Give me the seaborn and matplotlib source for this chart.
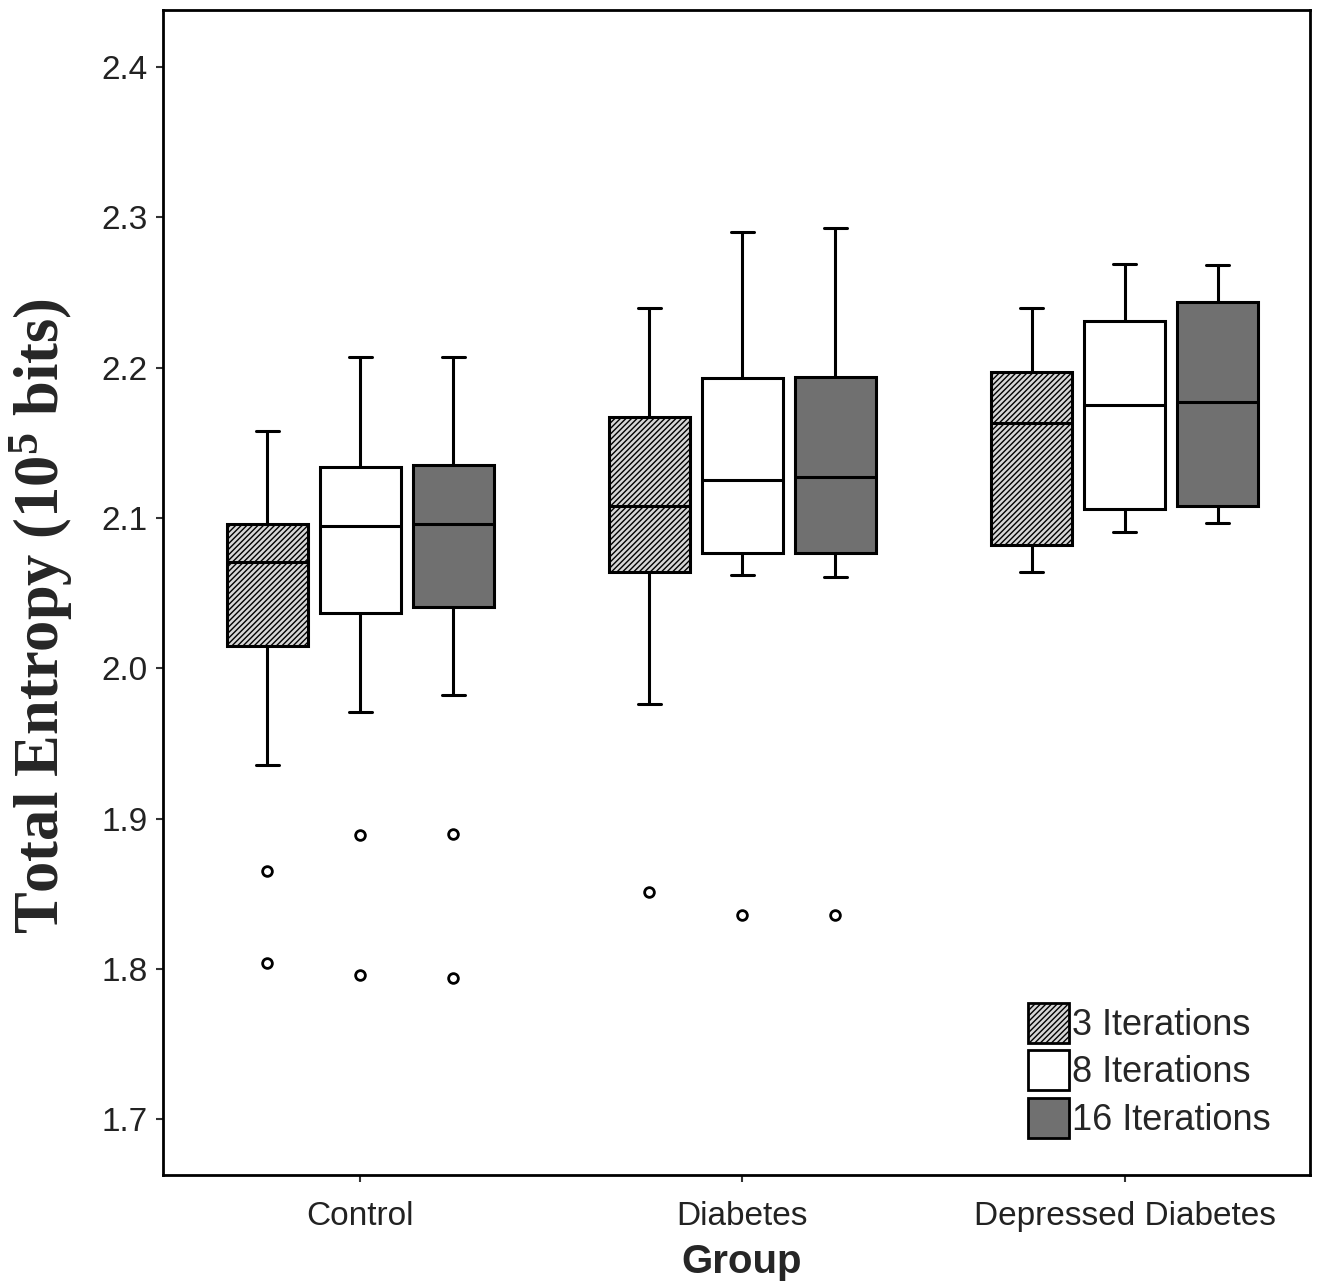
import numpy as np
import pandas as pd
import matplotlib.pyplot as plt
import seaborn as sns
from matplotlib.colors import to_rgb
from matplotlib.patches import Patch

groups = ["Control", "Diabetes", "Depressed Diabetes"]
iterations = ["3 Iterations", "8 Iterations", "16 Iterations"]

# box summaries, order: group by group, 3/8/16 iterations in each
whisker_low = [1.936, 1.971, 1.982, 1.976, 2.062, 2.061, 2.064, 2.091, 2.097]
quart_1 = [2.015, 2.037, 2.041, 2.064, 2.077, 2.077, 2.082, 2.106, 2.108]
medians = [2.071, 2.095, 2.096, 2.108, 2.125, 2.127, 2.163, 2.175, 2.177]
quart_3 = [2.096, 2.134, 2.135, 2.167, 2.193, 2.194, 2.197, 2.231, 2.244]
whisker_high = [2.158, 2.207, 2.207, 2.240, 2.290, 2.293, 2.240, 2.269, 2.268]
outliers = [[1.865, 1.804], [1.889, 1.796], [1.890, 1.794],
            [1.851], [1.836], [1.836],
            [], [], []]

fill_colors = ["#d6d6d6", "#ffffff", "#707070"]


# rebuild a 13 point sample whose quartiles, whiskers (1.5 IQR) and fliers
# come out exactly as the summary when seaborn computes them
def rebuild_sample(lo, q1, med, q3, hi, fliers):
    bottom = list(fliers) + [lo] * (3 - len(fliers))
    return bottom + [q1] * 3 + [med] * 3 + [q3] + [hi] * 3


rows = []
for i in range(len(medians)):
    grp = groups[i // 3]
    it = iterations[i % 3]
    sample = rebuild_sample(whisker_low[i], quart_1[i], medians[i],
                            quart_3[i], whisker_high[i], outliers[i])
    for v in sample:
        rows.append({"Group": grp, "Iterations": it, "Entropy": v})
df = pd.DataFrame(rows)

sns.set_style("ticks")
plt.rcParams["font.family"] = ["Liberation Sans", "DejaVu Sans"]
plt.rcParams["hatch.linewidth"] = 1.0
plt.rcParams["mathtext.fontset"] = "custom"
plt.rcParams["mathtext.rm"] = "Liberation Serif:bold"
plt.rcParams["mathtext.it"] = "Liberation Serif:bold"
plt.rcParams["mathtext.bf"] = "Liberation Serif:bold"

fig = plt.figure(figsize=(13.31, 12.88), dpi=100)
ax = fig.add_axes([0.1225, 0.0877, 0.8615, 0.9046])

sns.boxplot(data=df, x="Group", y="Entropy", hue="Iterations",
            order=groups, hue_order=iterations,
            palette=dict(zip(iterations, fill_colors)), saturation=1,
            width=0.73, gap=0.13, whis=1.5, linewidth=2.2, linecolor="black",
            fliersize=7, capwidths=0.06,
            flierprops=dict(marker="o", markerfacecolor="white",
                            markeredgecolor="black", markeredgewidth=2.0),
            medianprops=dict(color="black", linewidth=2.2),
            legend=False, ax=ax)

# hatch the 3 iteration boxes
for p in ax.patches:
    if np.allclose(p.get_facecolor()[:3], to_rgb(fill_colors[0])):
        p.set_hatch("//////")

ax.set_ylim(1.663, 2.438)
ax.set_xlim(-0.516, 2.484)
ax.set_yticks([1.7, 1.8, 1.9, 2.0, 2.1, 2.2, 2.3, 2.4])
ax.set_yticklabels(["1.7", "1.8", "1.9", "2.0", "2.1", "2.2", "2.3", "2.4"])

for s in ax.spines.values():
    s.set_visible(True)
    s.set_linewidth(2.0)
    s.set_color("black")
ax.tick_params(axis="both", length=5, width=1.5, color="#333333",
               labelsize=24, labelcolor="#222222", pad=6)
ax.tick_params(axis="x", pad=14)

ax.set_xlabel("Group", fontsize=29, fontweight="bold", va="top")
ax.xaxis.set_label_coords(0.505, -0.058)
ax.set_ylabel("Total Entropy (10$^{5}$ bits)", fontsize=45,
              fontweight="bold", family="Liberation Serif")
ax.yaxis.set_label_coords(-0.077, 0.48)

handles = [Patch(facecolor=fill_colors[0], edgecolor="black", hatch="//////", linewidth=2),
           Patch(facecolor=fill_colors[1], edgecolor="black", linewidth=2),
           Patch(facecolor=fill_colors[2], edgecolor="black", linewidth=2)]
ax.legend(handles, iterations, loc="lower left", bbox_to_anchor=(0.754, 0.032),
          frameon=False, fontsize=26, handlelength=1.15, handleheight=1.33,
          handletextpad=0.08, labelspacing=0.2, borderpad=0, borderaxespad=0)

fig.savefig("out.png", dpi=100)
